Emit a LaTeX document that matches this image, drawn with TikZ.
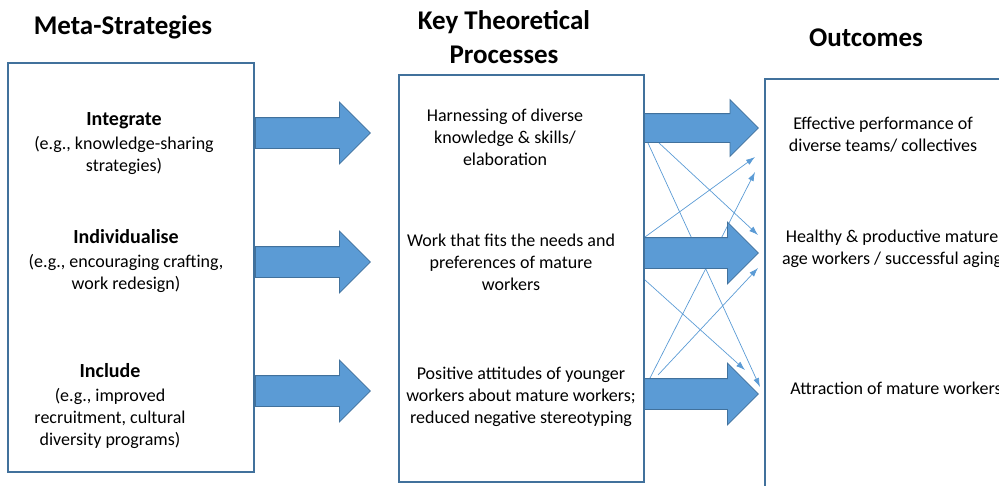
\documentclass[tikz,border=0pt]{standalone}
\usepackage{fontspec}
\setmainfont{Carlito}
\usepackage{tikz}
\usetikzlibrary{shapes.arrows,arrows.meta,positioning}

\definecolor{boxline}{RGB}{65,113,156}
\definecolor{arrowfill}{RGB}{91,155,213}
\definecolor{arrowline}{RGB}{65,113,156}

\newcommand{\hdfont}{\bfseries\fontsize{20}{24}\selectfont}

\tikzset{
	box/.style={draw=boxline, line width=1.2pt},
	bigarrow/.style={single arrow, draw=arrowline, fill=arrowfill, line width=0.8pt,
		inner xsep=0pt, inner ysep=15pt, single arrow head extend=15.5pt,
		minimum height=115pt, anchor=tail},
	thinarrow/.style={draw=arrowfill, line width=0.7pt, -{Latex[length=9pt,width=6pt]}},
	txt/.style={align=center, inner sep=0pt, font=\fontsize{18}{22}\selectfont},
	title/.style={align=center, inner sep=0pt, font=\bfseries\fontsize{27}{34}\selectfont},
}

\begin{document}
\begin{tikzpicture}[x=1pt,y=-1pt]
				\useasboundingbox (0,0) rectangle (999,485);
				\clip (0,0) rectangle (999,485);
				
				% titles
				\node[title] (tstrat) at (123,27) {Meta-Strategies};
				\node[title] (tproc) at (504,37) {Key Theoretical\\Processes};
				\node[title] (tout) at (866,38) {Outcomes};
				
				% boxes
				\draw[box] (8,63) rectangle (254,472);
				\draw[box] (399,75) rectangle (644,482);
				\draw[box] (765,79) rectangle (1012,520);
				
				% meta-strategies
				\node[txt] (integ) at (124,144) {{\hdfont Integrate}\\[2pt](e.g., knowledge-sharing\\strategies)};
				\node[txt] (indiv) at (126,261) {{\hdfont Individualise}\\[2pt](e.g., encouraging crafting,\\work redesign)};
				\node[txt] (incl) at (110,406) {{\hdfont Include}\\[2pt](e.g., improved\\recruitment, cultural\\diversity programs)};
				
				% processes
				\node[txt] (harn) at (505,137) {Harnessing of diverse\\knowledge \& skills/\\elaboration};
				\node[txt] (fits) at (511,262) {Work that fits the needs and\\preferences of mature\\workers};
				\node[txt] (posi) at (521,397) {Positive attitudes of younger\\workers about mature workers;\\reduced negative stereotyping};
				
				% outcomes
				\node[txt] (perf) at (883,135) {Effective performance of\\diverse teams/ collectives};
				\node[txt] (heal) at (892,249) {Healthy \& productive mature\\age workers / successful aging};
				\node[txt] (attr) at (896,388) {Attraction of mature workers};
				
				% cross links
				\foreach \n/\x/\y in
				{p1a/648/143, p1b/658/142, p2a/645/237, p2b/645/280, p3a/650/378, p3b/658/375,
				 o1a/755/157, o1b/755/172, o2a/758/235, o2b/758/268, o3a/745/370, o3b/760/387}{
					\coordinate (\n) at (\x,\y);
				}
				\foreach \a/\b in
				{p1a/o3b, p1b/o2a, p2a/o1a, p2b/o3a, p3a/o1b, p3b/o2b}{
					\draw[thinarrow] (\a)--(\b);
				}
				
				% block arrows
				\foreach \n/\y in {sa1/133, sa2/262, sa3/391}{
					\node[bigarrow] (\n) at (255,\y) {};
				}
				\node[bigarrow, inner ysep=14pt, single arrow head extend=14pt, minimum height=114pt] (pa1) at (644,128) {};
				\foreach \n/\y in {pa2/253, pa3/394}{
					\node[bigarrow, minimum height=114pt] (\n) at (644,\y) {};
				}
			\end{tikzpicture}
\end{document}
